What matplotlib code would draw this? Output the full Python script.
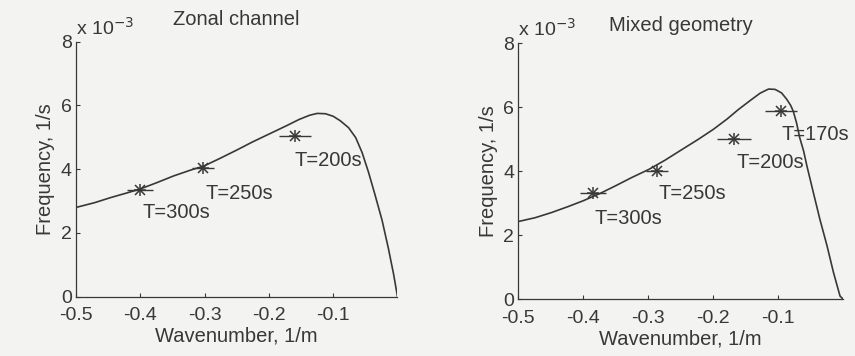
import matplotlib
matplotlib.use("Agg")
import matplotlib.pyplot as plt

plt.rcParams['font.family'] = ['Liberation Sans', 'DejaVu Sans']

# ---- Data (frequency in units of 1e-3 1/s) ----
# Zonal channel: dispersion curve
zonal_k = [-0.5, -0.471, -0.446, -0.420, -0.400, -0.374, -0.348, -0.322, -0.301,
           -0.276, -0.250, -0.225, -0.200, -0.173, -0.153, -0.137, -0.125, -0.112,
           -0.100, -0.089, -0.076, -0.065, -0.055, -0.045, -0.035, -0.024, -0.014,
           -0.006, 0.0]
zonal_f = [2.80, 2.95, 3.11, 3.26, 3.38, 3.58, 3.79, 3.97, 4.10,
           4.34, 4.60, 4.86, 5.10, 5.36, 5.56, 5.69, 5.75, 5.74,
           5.66, 5.52, 5.30, 4.99, 4.52, 3.90, 3.20, 2.40, 1.50,
           0.70, 0.0]
# Zonal channel: observations
zonal_obs_k = [-0.400, -0.303, -0.160]
zonal_obs_f = [3.36, 4.05, 5.03]
zonal_obs_err = [0.020, 0.017, 0.025]
zonal_labels = ["T=300s", "T=250s", "T=200s"]

# Mixed geometry: dispersion curve
mixed_k = [-0.5, -0.474, -0.449, -0.423, -0.400, -0.374, -0.351, -0.326, -0.299,
           -0.274, -0.249, -0.223, -0.200, -0.179, -0.162, -0.144, -0.128, -0.115,
           -0.105, -0.095, -0.087, -0.081, -0.077, -0.072, -0.067, -0.061, -0.056,
           -0.046, -0.036, -0.025, -0.015, -0.005, 0.0]
mixed_f = [2.43, 2.55, 2.71, 2.90, 3.08, 3.31, 3.54, 3.80, 4.06,
           4.35, 4.67, 5.00, 5.31, 5.63, 5.92, 6.20, 6.44, 6.57,
           6.56, 6.45, 6.25, 6.06, 5.88, 5.52, 5.05, 4.63, 4.17,
           3.33, 2.50, 1.67, 0.83, 0.10, 0.0]
# Mixed geometry: observations
mixed_obs_k = [-0.385, -0.286, -0.168, -0.096]
mixed_obs_f = [3.33, 4.01, 5.01, 5.89]
mixed_obs_err = [0.020, 0.017, 0.026, 0.025]
mixed_labels = ["T=300s", "T=250s", "T=200s", "T=170s"]

titles = ["Zonal channel", "Mixed geometry"]
xticks = [-0.5, -0.4, -0.3, -0.2, -0.1]
xticklabels = ["-0.5", "-0.4", "-0.3", "-0.2", "-0.1"]
yticks = [0, 2, 4, 6, 8]
yticklabels = ["0", "2", "4", "6", "8"]

# label anchor positions (left edge, vertical centre) in data coords
zonal_label_pos = [(-0.397, 2.64), (-0.299, 3.24), (-0.160, 4.26)]
mixed_label_pos = [(-0.382, 2.53), (-0.285, 3.31), (-0.164, 4.27), (-0.095, 5.14)]

BG = '#f3f3f1'
INK = '#383838'

fig = plt.figure(figsize=(8.55, 3.56), dpi=100, facecolor=BG)
ax1 = fig.add_axes([0.0889, 0.1666, 0.3760, 0.7163])
ax2 = fig.add_axes([0.6062, 0.1593, 0.3801, 0.7191])

panels = [
    (ax1, zonal_k, zonal_f, zonal_obs_k, zonal_obs_f, zonal_obs_err, zonal_labels,
     zonal_label_pos, titles[0], 12),
    (ax2, mixed_k, mixed_f, mixed_obs_k, mixed_obs_f, mixed_obs_err, mixed_labels,
     mixed_label_pos, titles[1], 9),
]

for ax, k, f, ok, of, oe, labs, lpos, title, tpad in panels:
    ax.set_facecolor(BG)
    ax.plot(k, f, color=INK, lw=1.2, solid_joinstyle='round', solid_capstyle='round')
    ax.errorbar(ok, of, xerr=oe, fmt='none', ecolor=INK, elinewidth=1.0, capsize=0)
    ax.plot(ok, of, ls='none', marker='+', ms=9, mew=1.1, color=INK)
    ax.plot(ok, of, ls='none', marker='x', ms=7, mew=1.1, color=INK)
    for lab, (lx, ly) in zip(labs, lpos):
        ax.text(lx, ly, lab, ha='left', va='center', fontsize=14.5, color=INK)
    ax.set_xlim(-0.5, 0.0)
    ax.set_ylim(0, 8)
    ax.set_xticks(xticks)
    ax.set_xticklabels(xticklabels)
    ax.set_yticks(yticks)
    ax.set_yticklabels(yticklabels)
    ax.tick_params(direction='in', length=3, width=0.8, colors=INK, labelsize=14,
                   labelcolor=INK)
    ax.tick_params(axis='x', pad=7.5)
    ax.tick_params(axis='y', pad=3)
    for s in ['top', 'right']:
        ax.spines[s].set_visible(False)
    for s in ['left', 'bottom']:
        ax.spines[s].set_color(INK)
        ax.spines[s].set_linewidth(0.9)
    ax.set_xlabel("Wavenumber, 1/m", fontsize=14.5, color=INK, labelpad=2)
    ax.set_ylabel("Frequency, 1/s", fontsize=14.5, color=INK, labelpad=4)
    ax.set_title(title, fontsize=14.5, color=INK, pad=tpad)
    ax.text(0.0, 1.012, "x 10$^{-3}$", transform=ax.transAxes, ha='left', va='bottom',
            fontsize=14, color=INK)

fig.savefig("out.png", dpi=100, facecolor=BG)
